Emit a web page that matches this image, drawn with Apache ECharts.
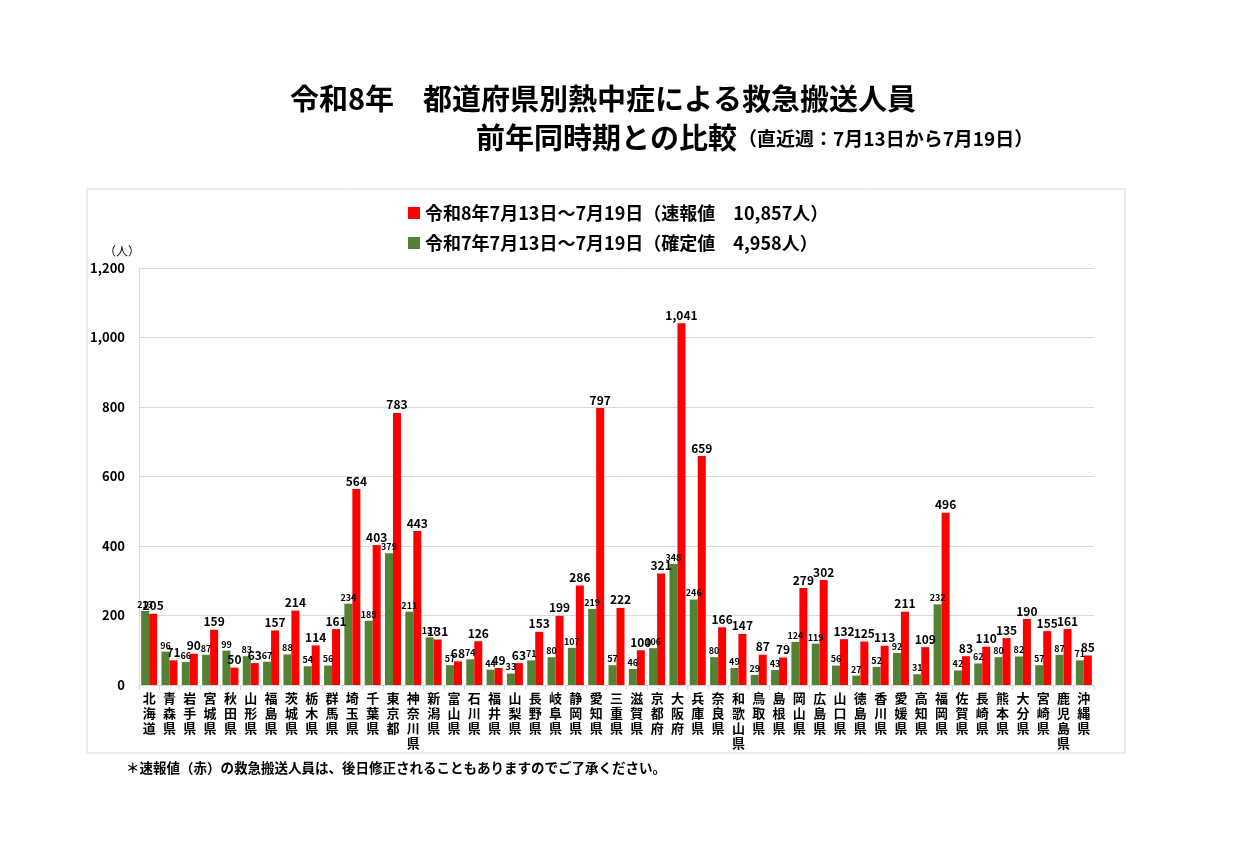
<!DOCTYPE html>
<html>
<head>
<meta charset="utf-8">
<script src="https://cdn.jsdelivr.net/npm/echarts@6/dist/echarts.min.js"></script>
<style>
  html, body { margin: 0; padding: 0; background: #fff; }
  #chart { width: 1233px; height: 866px; }
</style>
</head>
<body>
<div id="chart"></div>
<script>
var prefectures = ['北海道', '青森県', '岩手県', '宮城県', '秋田県', '山形県', '福島県', '茨城県', '栃木県', '群馬県',
    '埼玉県', '千葉県', '東京都', '神奈川県', '新潟県', '富山県', '石川県', '福井県', '山梨県', '長野県',
    '岐阜県', '静岡県', '愛知県', '三重県', '滋賀県', '京都府', '大阪府', '兵庫県', '奈良県', '和歌山県',
    '鳥取県', '島根県', '岡山県', '広島県', '山口県', '徳島県', '香川県', '愛媛県', '高知県', '福岡県',
    '佐賀県', '長崎県', '熊本県', '大分県', '宮崎県', '鹿児島県', '沖縄県'];

// 令和8年 (速報値)
var thisYear = [205, 71, 90, 159, 50, 63, 157, 214, 114, 161,
    564, 403, 783, 443, 131, 68, 126, 49, 63, 153,
    199, 286, 797, 222, 100, 321, 1041, 659, 166, 147,
    87, 79, 279, 302, 132, 125, 113, 211, 109, 496,
    83, 110, 135, 190, 155, 161, 85];

// 令和7年 (確定値)
var lastYear = [213, 96, 66, 87, 99, 83, 67, 88, 54, 56,
    234, 185, 379, 211, 137, 57, 74, 44, 33, 71,
    80, 107, 219, 57, 46, 106, 348, 246, 80, 49,
    29, 43, 124, 119, 56, 27, 52, 92, 31, 232,
    42, 62, 80, 82, 57, 87, 71];

var nameThis = '令和8年7月13日～7月19日（速報値　10,857人）';
var nameLast = '令和7年7月13日～7月19日（確定値　4,958人）';

var jp = '"Noto Sans CJK JP", "Noto Sans", sans-serif';

function comma(v) {
    return Number(v).toLocaleString('en-US');
}

var chart = echarts.init(document.getElementById('chart'));
var option = {
    backgroundColor: '#fff',
    textStyle: { fontFamily: jp },
    graphic: [
        {
            type: 'rect', z: -10,
            shape: { x: 87, y: 189, width: 1038, height: 564 },
            style: { fill: '#fff', stroke: '#d9d9d9', lineWidth: 1 }
        },
        {
            type: 'text', left: 290, top: 84,
            style: { text: '令和8年　都道府県別熱中症による救急搬送人員', font: 'bold 29px ' + jp, fill: '#000' }
        },
        {
            type: 'text', left: 476, top: 123,
            style: { text: '前年同時期との比較', font: 'bold 29px ' + jp, fill: '#000' }
        },
        {
            type: 'text', left: 738, top: 129,
            style: { text: '（直近週：7月13日から7月19日）', font: 'bold 19px ' + jp, fill: '#000' }
        },
        {
            type: 'text', left: 104, top: 245,
            style: { text: '（人）', font: '12px ' + jp, fill: '#000' }
        },
        {
            type: 'text', left: 126, top: 761,
            style: { text: '＊速報値（赤）の救急搬送人員は、後日修正されることもありますのでご了承ください。', font: 'bold 13.5px ' + jp, fill: '#000' }
        }
    ],
    legend: {
        orient: 'vertical',
        left: 403,
        top: 199,
        icon: 'rect',
        itemWidth: 12,
        itemHeight: 12,
        itemGap: 12,
        data: [nameThis, nameLast],
        textStyle: { fontSize: 18, fontWeight: 'bold', color: '#000', fontFamily: jp }
    },
    grid: { left: 139, right: 139, top: 268, bottom: 181, containLabel: false },
    xAxis: {
        type: 'category',
        data: prefectures,
        axisLine: { lineStyle: { color: '#d9d9d9' } },
        axisTick: { show: true, length: 5, lineStyle: { color: '#d9d9d9' } },
        axisLabel: {
            interval: 0,
            color: '#000',
            fontSize: 13,
            fontWeight: 'bold',
            lineHeight: 15,
            margin: 6,
            formatter: function (v) { return v.split('').join('\n'); }
        }
    },
    yAxis: {
        type: 'value',
        min: 0,
        max: 1200,
        interval: 200,
        axisLine: { show: true, lineStyle: { color: '#d9d9d9' } },
        splitLine: { lineStyle: { color: '#d9d9d9' } },
        axisLabel: {
            color: '#000',
            fontSize: 13,
            fontWeight: 'bold',
            margin: 14,
            formatter: function (v) { return comma(v); }
        }
    },
    series: [
        {
            name: nameLast,
            type: 'bar',
            data: lastYear,
            barWidth: 8,
            barGap: '0%',
            itemStyle: { color: '#548235' },
            label: { show: true, position: 'top', distance: 2, fontSize: 9, fontWeight: 'bold', color: '#000' }
        },
        {
            name: nameThis,
            type: 'bar',
            data: thisYear,
            barWidth: 8,
            barGap: '0%',
            itemStyle: { color: '#ff0000' },
            label: {
                show: true, position: 'top', distance: 2, fontSize: 12, fontWeight: 'bold', color: '#000',
                formatter: function (p) { return comma(p.value); }
            }
        }
    ]
};
chart.setOption(option);
window.onresize = function () { chart.resize(); };
</script>
</body>
</html>
